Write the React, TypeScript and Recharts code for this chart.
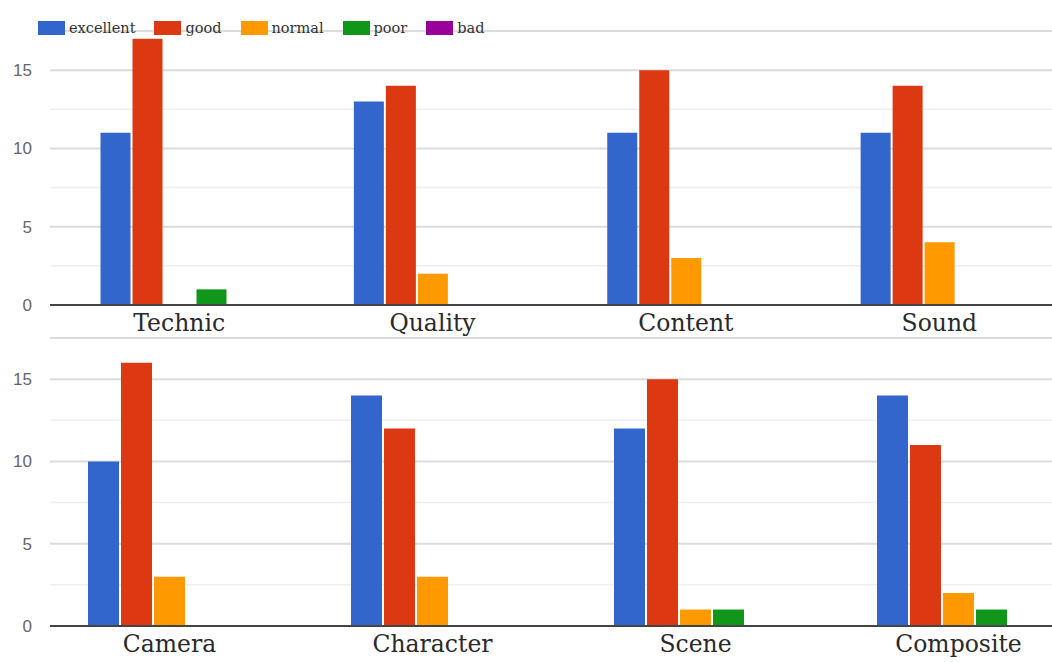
import React from "react";
import { BarChart, Bar, XAxis, YAxis, CartesianGrid } from "recharts";

const seriesKeys = ["excellent", "good", "normal", "poor", "bad"];
const seriesColors = ["#3366cc", "#dc3912", "#ff9900", "#109618", "#990099"];

const topCategories = ["Technic", "Quality", "Content", "Sound"];
const topExcellent = [11, 13, 11, 11];
const topGood = [17, 14, 15, 14];
const topNormal = [0, 2, 3, 4];
const topPoor = [1, 0, 0, 0];
const topBad = [0, 0, 0, 0];

const bottomCategories = ["Camera", "Character", "Scene", "Composite"];
const bottomExcellent = [10, 14, 12, 14];
const bottomGood = [16, 12, 15, 11];
const bottomNormal = [3, 3, 1, 2];
const bottomPoor = [0, 0, 1, 1];
const bottomBad = [0, 0, 0, 0];

const majorTicks = [0, 5, 10, 15];
const minorTicks = [2.5, 7.5, 12.5, 17.5];

function buildRows(categories: string[], columns: number[][]) {
  return categories.map((name, i) => {
    const row: Record<string, string | number> = { name };
    seriesKeys.forEach((key, s) => {
      row[key] = columns[s][i];
    });
    return row;
  });
}

const topRows = buildRows(topCategories, [topExcellent, topGood, topNormal, topPoor, topBad]);
const bottomRows = buildRows(bottomCategories, [
  bottomExcellent,
  bottomGood,
  bottomNormal,
  bottomPoor,
  bottomBad,
]);

interface PanelProps {
  rows: Record<string, string | number>[];
  top: number;
  width: number;
  height: number;
  marginTop: number;
  xAxisHeight: number;
  padLeft: number;
  barSize: number;
}

function Panel({ rows, top, width, height, marginTop, xAxisHeight, padLeft, barSize }: PanelProps) {
  return (
    <div style={{ position: "absolute", left: 0, top }}>
      <BarChart
        width={width}
        height={height}
        data={rows}
        margin={{ top: marginTop, right: 0, bottom: 0, left: 0 }}
        barGap={2}
        barSize={barSize}
      >
        <CartesianGrid
          vertical={false}
          horizontalValues={minorTicks}
          stroke="#efefef"
          strokeWidth={1.5}
        />
        <CartesianGrid vertical={false} stroke="#dcdcdc" strokeWidth={2} />
        <XAxis
          dataKey="name"
          height={xAxisHeight}
          tickLine={false}
          tickSize={0}
          tickMargin={9}
          padding={{ left: padLeft, right: 0 }}
          axisLine={{ stroke: "#444444", strokeWidth: 2 }}
          tick={{ fontFamily: "DejaVu Serif", fontSize: 23.5, fill: "#2a2a2a" }}
          interval={0}
        />
        <YAxis
          width={50}
          domain={[0, 17.5]}
          ticks={majorTicks}
          allowDataOverflow
          axisLine={false}
          tickLine={false}
          tickSize={0}
          tickMargin={18}
          tick={{ fontFamily: "Liberation Sans, Arial", fontSize: 17, fill: "#666666" }}
        />
        {seriesKeys.map((key, i) => (
          <Bar key={key} dataKey={key} fill={seriesColors[i]} isAnimationActive={false} />
        ))}
      </BarChart>
    </div>
  );
}

function LegendRow() {
  return (
    <div
      style={{
        position: "absolute",
        left: 38,
        top: 20,
        display: "flex",
        alignItems: "center",
        fontFamily: "DejaVu Serif",
        fontSize: 14.5,
        color: "#333333",
      }}
    >
      {seriesKeys.map((key, i) => (
        <div key={key} style={{ display: "flex", alignItems: "center", marginRight: 19 }}>
          <div style={{ width: 27, height: 14, background: seriesColors[i], marginRight: 4 }} />
          <span>{key}</span>
        </div>
      ))}
    </div>
  );
}

export default function App() {
  return (
    <div
      style={{
        position: "absolute",
        left: 0,
        top: 0,
        width: 1052,
        height: 662,
        overflow: "hidden",
        background: "#ffffff",
      }}
    >
      <Panel
        rows={topRows}
        top={0}
        width={1066}
        height={340}
        marginTop={31}
        xAxisHeight={35}
        padLeft={2.5}
        barSize={30}
      />
      <Panel
        rows={bottomRows}
        top={320}
        width={1090}
        height={342}
        marginTop={18}
        xAxisHeight={36}
        padLeft={-12}
        barSize={31}
      />
      <LegendRow />
    </div>
  );
}
